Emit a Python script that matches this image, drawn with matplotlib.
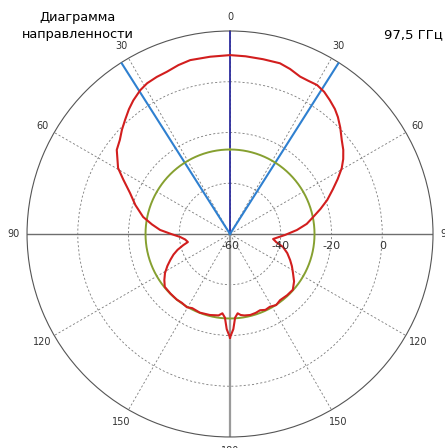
"""Radiation pattern (polar) at 97.5 GHz."""

import matplotlib.pyplot as plt
import numpy as np

RED = "#d21e1e"
GREEN = "#86a030"
BLUE = "#2f80d0"
NAVY = "#2c2c9e"
GRID = "#7a7a7a"

# measured pattern, degrees (clockwise from top) and dB
PATTERN_DEG = [
    -180, -178, -176.5, -174.5, -172, -166, -159, -153, -149.5, -145, -141,
    -135, -129, -125, -121, -117, -113.4, -110, -106.8, -103.5, -100.8,
    -97, -93.4, -90, -86.7, -83, -78.9, -73, -67.7, -63, -59.5, -53.4,
    -49.5, -46, -42.6, -39, -35.9, -32, -28.8, -25, -21.3, -17, -12.9,
    -6.4, 0, 5, 10.7, 16.3, 20, 24, 27, 30.3, 33.5, 36.7, 40, 42.7, 46,
    50, 53.4, 56.5, 59.5, 63, 66.5, 70.7, 74.5, 78.4, 82.5, 86.6, 91,
    96.6, 100, 103.8, 108.5, 113.4, 117.5, 121.8, 126.5, 131.6, 137,
    142.9, 147, 151.3, 155, 158.5, 162, 166, 170, 172.5, 174.5, 176.5,
    178, 180,
]
PATTERN_DB = [
    -19.2, -22.5, -27.0, -28.6, -27.6, -27.1, -26.8, -27.2, -26.5, -26.9,
    -26.7, -26.8, -26.9, -28.4, -30.1, -32.3, -34.4, -36.3, -38.4, -41.0,
    -43.1, -42.2, -40.3, -36.8, -32.4, -29.0, -25.1, -21.0, -17.4, -12.8,
    -8.8, -4.4, -2.9, -0.8, 1.1, 3.3, 5.0, 6.8, 7.8, 8.3, 8.6, 9.6, 10.3,
    10.3, 10.5, 10.3, 10.1, 10.1, 9.2, 7.9, 7.8, 8.0, 7.2, 5.8, 4.3, 2.7,
    0.4, -2.5, -4.4, -6.5, -8.9, -12.4, -15.8, -19.4, -23.0, -26.5, -29.5,
    -33.6, -38.3, -42.9, -41.5, -38.5, -36.2, -34.2, -32.5, -30.8, -28.6,
    -26.9, -27.0, -27.3, -26.6, -27.3, -27.0, -27.7, -27.3, -27.1, -27.4,
    -27.8, -28.6, -27.0, -22.5, -19.2,
]

REF_LEVEL_DB = -26.7          # green reference circle
BEAM_EDGES_DEG = [-32.4, 32.4]  # blue half-power lines
R_MIN, R_MAX = -60, 20
R_TICKS = [-60, -40, -20, 0]
THETA_TICKS_DEG = list(range(0, 360, 30))
THETA_LABELS = ["0", "30", "60", "90", "120", "150", "180",
                "150", "120", "90", "60", "30"]


def make_plot() -> None:
    fig = plt.figure(figsize=(4.45, 4.48), dpi=100)
    ax = fig.add_axes([0.0607, 0.0246, 0.9124, 0.9062], projection="polar")
    ax.set_theta_zero_location("N")
    ax.set_theta_direction(-1)
    ax.set_ylim(R_MIN, R_MAX)

    ax.set_yticks(R_TICKS[1:])
    ax.set_yticklabels([])
    ax.set_xticks(np.deg2rad(THETA_TICKS_DEG))
    ax.set_xticklabels(THETA_LABELS, fontsize=7, color="#333333")
    ax.tick_params(axis="x", pad=-0.5)
    ax.grid(True, color=GRID, linestyle=(0, (2.5, 2.5)), linewidth=0.6)
    ax.spines["polar"].set_color("#555555")
    ax.spines["polar"].set_linewidth(0.8)

    # solid axis lines
    for ang in (90, 270):
        ax.plot([np.deg2rad(ang)] * 2, [R_MIN, R_MAX], color="#6e6e6e",
                linewidth=1.0, zorder=2)
    ax.plot([np.pi] * 2, [R_MIN, R_MAX], color="#9a9a9a",
            linewidth=1.6, zorder=2)
    ax.plot([0, 0], [R_MIN, R_MAX], color=NAVY, linewidth=1.3, zorder=3)
    for ang in BEAM_EDGES_DEG:
        ax.plot([np.deg2rad(ang)] * 2, [R_MIN, R_MAX], color=BLUE,
                linewidth=1.5, zorder=3)

    full = np.linspace(0, 2 * np.pi, 361)
    ax.plot(full, np.full_like(full, REF_LEVEL_DB), color=GREEN,
            linewidth=1.4, zorder=4)
    ax.plot(np.deg2rad(PATTERN_DEG), PATTERN_DB, color=RED,
            linewidth=1.5, zorder=5)

    for r in R_TICKS:
        ax.annotate(str(r), xy=(np.pi / 2, r), xytext=(0, -9),
                    textcoords="offset points", ha="center", va="center",
                    fontsize=8, color="#333333", zorder=6)

    fig.text(0.175, 0.96, "Диаграмма", ha="center", va="center",
             fontsize=9.3)
    fig.text(0.175, 0.922, "направленности", ha="center", va="center",
             fontsize=9.3)
    fig.text(0.93, 0.922, "97,5 ГГц", ha="center", va="center",
             fontsize=9.5)

    fig.savefig("out.png", facecolor="white")
    plt.close(fig)


if __name__ == "__main__":
    make_plot()
